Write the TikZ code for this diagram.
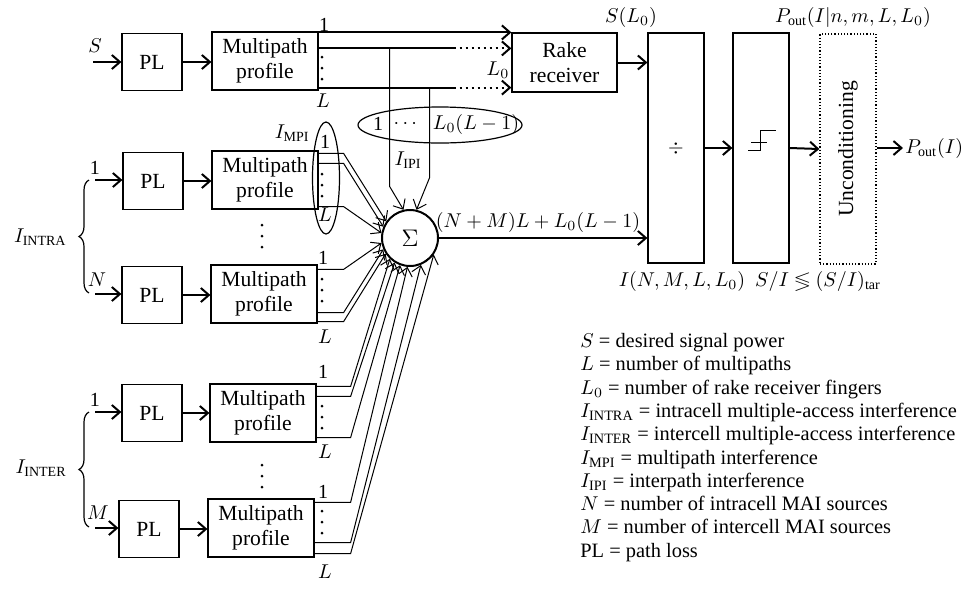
\documentclass[tikz,border=0pt]{standalone}
\usepackage{amsmath,amssymb}
\usepackage{fontspec}
\setmainfont{Liberation Serif}
\usepackage{tikz}
\usetikzlibrary{arrows.meta,positioning,shapes.geometric,decorations.pathreplacing}

\begin{document}
\begin{tikzpicture}[x=0.5pt, y=-0.5pt,
        blk/.style={draw, semithick, minimum width=30pt, minimum height=28.5pt, inner sep=1pt, align=center, font=\fontsize{10.8}{12.5}\selectfont},
        mp/.style={blk, minimum width=53pt, minimum height=29pt},
        tall/.style={draw, semithick, minimum width=28pt, minimum height=115pt},
        flow/.style={-{Straight Barb[length=4pt,width=7pt]}, line width=1pt},
        tap/.style={-{Straight Barb[length=4pt,width=7pt]}, line width=0.5pt},
        brc/.style={decorate, decoration={brace, amplitude=5pt}, semithick},
        lbl/.style={inner sep=1pt}
      ]
      \useasboundingbox (0,0) rectangle (970,596);

      % desired signal branch
      \coordinate (s0) at (93,62);
      \node[blk] (pl0) at (152,62) {PL};
      \node[mp] (mp0) at (265,61) {Multipath\\profile};
      \node[blk, minimum width=52.5pt, minimum height=29.5pt] (rake) at (564.5,62.5) {Rake\\receiver};
      \node[lbl] at (95,46) {$S$};
      \draw[flow] (s0) -- (s0 -| pl0.west);
      \draw[flow] (pl0.east) -- (pl0.east -| mp0.west);

      \coordinate (p01) at ([yshift=-0.5pt]mp0.north east);
      \coordinate (p02) at ([yshift=-8.5pt]mp0.north east);
      \coordinate (p0L) at ([yshift=1.5pt]mp0.south east);
      \draw[flow] (p01) -- (p01 -| rake.west);
      \draw[line width=1pt] (p02) -- ++(135,0) coordinate (d02);
      \draw[flow, dotted] (d02) -- (d02 -| rake.west);
      \draw[line width=1pt] (p0L) -- ++(135,0) coordinate (d0L);
      \draw[flow, dotted] (d0L) -- (d0L -| rake.west);
      \node[lbl] at (324,25) {1};
      \foreach \d in {-11,0,11} \fill (322,68+\d) circle (0.75pt);
      \node[lbl] at (323,101) {$L$};
      \node[lbl] at (498,70) {$L_0$};

      % receiver chain
      \node[tall] (div) at (676,148) {$\div$};
      \node[tall] (thr) at (761,148) {};
      \node[tall, densely dotted] (unc) at (848,149) {};
      \node[rotate=90, font=\fontsize{10.8}{12.5}\selectfont] (unctxt) at (unc) {Unconditioning};
      \node[circle, draw, line width=1pt, minimum size=28pt, inner sep=0pt, font=\large] (sum) at (410,238) {$\Sigma$};
      \draw (748,150) -- (760,150) -- (760,130) -- (776,130);
      \draw (751,142) -- (767,142);

      \draw[flow] (rake.east) -- (rake.east -| div.west);
      \draw[flow] (sum.east) -- (sum.east -| div.west);
      \draw[flow] (div.east) -- (thr.west);
      \draw[flow] (thr.east) -- (unc.west);
      \coordinate (pout) at (903,148);
      \draw[flow] (unc.east |- pout) -- (pout);
      \node[anchor=west, inner sep=1pt] at (pout) {$P_{\text{out}}(I)$};

      \node[lbl] at (631,17) {$S(L_0)$};
      \node[lbl] at (853,17) {$P_{\text{out}}(I|n,m,L,L_0)$};
      \node[lbl] at (538,222) {$(N+M)L+L_0(L-1)$};
      \node[lbl] at (682,281) {$I(N,M,L,L_0)$};
      \node[lbl] at (818,281) {$S/I \lessgtr (S/I)_{\text{tar}}$};

      % interpath interference
      \node[draw, ellipse, semithick, minimum width=82pt, minimum height=18pt, inner sep=0pt] (ipi) at (440,125) {};
      \node[lbl] at (378,124) {1};
      \node[lbl] at (407,124) {$\cdots$};
      \node[lbl] at (476,124) {$L_0(L-1)$};
      \node[lbl] at (408,160) {$I_{\text{IPI}}$};
      \draw[tap] ([xshift=35.5pt]p02) -- ++(0,138) -- (sum.103);
      \draw[tap] ([xshift=55.5pt]p0L) -- ++(0,90) -- (sum.77);

      % intracell sources
      \coordinate (s1) at (95,180);
      \coordinate (s2) at (95,294);
      \node[blk] (pl1) at (153,181) {PL};
      \node[mp] (mp1) at (265,180) {Multipath\\profile};
      \node[blk] (pl2) at (152,295) {PL};
      \node[mp] (mp2) at (264,294) {Multipath\\profile};
      \draw[flow] (s1) -- (s1 -| pl1.west);
      \draw[flow] (s2) -- (s2 -| pl2.west);
      \draw[flow] (pl1.east) -- (pl1.east -| mp1.west);
      \draw[flow] (pl2.east) -- (pl2.east -| mp2.west);
      \node[lbl] at (95,168) {1};
      \node[lbl] at (97,280) {$N$};
      \draw[brc] (89,293) -- (89,180);
      \node[anchor=east, inner sep=1pt] (intra) at (69,237) {$I_{\text{INTRA}}$};
      \foreach \d in {-11,0,11} \fill (262,236+\d) circle (0.75pt);

      \node[draw, ellipse, semithick, minimum width=13.5pt, minimum height=56pt, inner sep=0pt] (mpi) at (326,178) {};
      \node[anchor=east, inner sep=1pt] at (312,133) {$I_{\text{MPI}}$};
      \coordinate (p11) at ([yshift=-1.5pt]mp1.north east);
      \coordinate (p12) at ([yshift=-6.5pt]mp1.north east);
      \coordinate (p1L) at ([yshift=1.5pt]mp1.south east);
      \draw[tap] (p11) -- ++(25,0) -- (sum.145);
      \draw[tap] (p12) -- ++(25,0) -- (sum.157);
      \draw[tap] (p1L) -- ++(25,0) -- (sum.170);
      \node[lbl] at (325,142) {1};
      \foreach \d in {-11,0,11} \fill (322,185+\d) circle (0.75pt);
      \node[lbl] at (325,215) {$L$};

      \coordinate (p21) at ([yshift=-2.5pt]mp2.north east);
      \coordinate (p22) at ([yshift=5.5pt]mp2.south east);
      \coordinate (p2L) at ([yshift=1pt]mp2.south east);
      \draw[tap] (p21) -- ++(26,0) -- (sum.190);
      \draw[tap] (p22) -- ++(26,0) -- (sum.203);
      \draw[tap] (p2L) -- ++(26,0) -- (sum.213);
      \node[lbl] at (323,258) {1};
      \foreach \d in {-11,0,11} \fill (322,290+\d) circle (0.75pt);
      \node[lbl] at (325,337) {$L$};

      % intercell sources
      \coordinate (s3) at (95,412);
      \coordinate (s4) at (95,528);
      \node[blk] (pl3) at (152,413) {PL};
      \node[mp] (mp3) at (263,413) {Multipath\\profile};
      \node[blk] (pl4) at (149,529) {PL};
      \node[mp] (mp4) at (261,528) {Multipath\\profile};
      \draw[flow] (s3) -- (s3 -| pl3.west);
      \draw[flow] (s4) -- (s4 -| pl4.west);
      \draw[flow] (pl3.east) -- (pl3.east -| mp3.west);
      \draw[flow] (pl4.east) -- (pl4.east -| mp4.west);
      \node[lbl] at (95,400) {1};
      \node[lbl] at (98,513) {$M$};
      \draw[brc] (89,527) -- (89,412);
      \node[anchor=east, inner sep=1pt] (inter) at (69,468) {$I_{\text{INTER}}$};
      \foreach \d in {-11,0,11} \fill (262,476+\d) circle (0.75pt);

      \coordinate (p31) at ([yshift=-1.5pt]mp3.north east);
      \coordinate (p32) at ([yshift=-6.5pt]mp3.north east);
      \coordinate (p3L) at ([yshift=2.5pt]mp3.south east);
      \draw[tap] (p31) -- ++(34,0) -- (sum.226);
      \draw[tap] (p32) -- ++(34,0) -- (sum.238);
      \draw[tap] (p3L) -- ++(34,0) -- (sum.250);
      \node[lbl] at (323,372) {1};
      \foreach \d in {-11,0,11} \fill (322,417+\d) circle (0.75pt);
      \node[lbl] at (325,452) {$L$};

      \coordinate (p41) at ([yshift=-2pt]mp4.north east);
      \coordinate (p42) at ([yshift=7.5pt]mp4.south east);
      \coordinate (p4L) at ([yshift=2pt]mp4.south east);
      \draw[tap] (p41) -- ++(36,0) -- (sum.265);
      \draw[tap] (p42) -- ++(36,0) -- (sum.292);
      \draw[tap] (p4L) -- ++(36,0) -- (sum.325);
      \node[lbl] at (323,492) {1};
      \foreach \d in {-11,0,11} \fill (322,522+\d) circle (0.75pt);
      \node[lbl] at (325,572) {$L$};

      % legend
      \node[anchor=north west, align=left, inner sep=0pt, font=\fontsize{10.2}{11.65}\selectfont] (legend) at (580,333)
        {$S$ = desired signal power\\
         $L$ = number of multipaths\\
         $L_0$ = number of rake receiver fingers\\
         $I_{\text{INTRA}}$ = intracell multiple-access interference\\
         $I_{\text{INTER}}$ = intercell multiple-access interference\\
         $I_{\text{MPI}}$ = multipath interference\\
         $I_{\text{IPI}}$ = interpath interference\\
         $N$ = number of intracell MAI sources\\
         $M$ = number of intercell MAI sources\\
         PL = path loss};
    \end{tikzpicture}
\end{document}
